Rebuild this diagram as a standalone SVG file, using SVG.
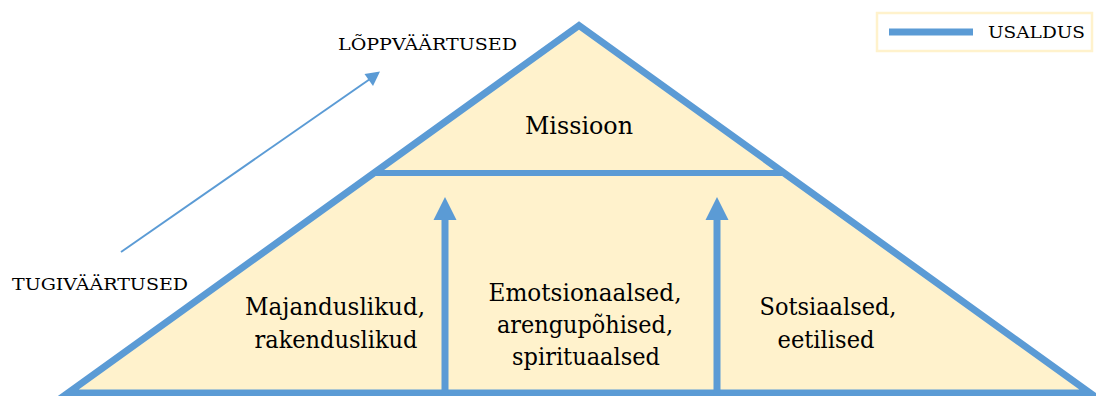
<svg xmlns="http://www.w3.org/2000/svg" width="1096" height="396" viewBox="0 0 1096 396">
<style>
text{font-family:'DejaVu Serif','Liberation Serif',serif;fill:#000}
.big{font-size:25px;text-anchor:middle}
.sm{font-size:16.5px}
.blue{stroke:#5b9bd5;fill:none}
</style>
<rect width="1096" height="396" fill="#fff"/>
<g id="pyramid">
<polygon points="579,25.5 68,393 1090,393" fill="#fff2cc" stroke="#5b9bd5" stroke-width="7" stroke-linejoin="miter"/>
<line class="blue" x1="376" y1="173" x2="782" y2="173" stroke-width="6"/>
</g>
<g id="connectors">
<line class="blue" x1="445" y1="396" x2="445" y2="216" stroke-width="7"/>
<polygon points="445,197 433.5,220 456.5,220" fill="#5b9bd5"/>
<line class="blue" x1="717" y1="396" x2="717" y2="216" stroke-width="7"/>
<polygon points="717,197 705.5,220 728.5,220" fill="#5b9bd5"/>
<line class="blue" x1="121" y1="252" x2="370" y2="79" stroke-width="2"/>
<polygon points="380,71.5 373,86 364.5,74" fill="#5b9bd5"/>
</g>
<g id="missioon">
<text class="big" x="579" y="134" textLength="108" lengthAdjust="spacingAndGlyphs">Missioon</text>
</g>
<g id="majanduslikud">
<text class="big" x="335" y="315" textLength="180" lengthAdjust="spacingAndGlyphs">Majanduslikud,</text>
<text class="big" x="336" y="348" textLength="163" lengthAdjust="spacingAndGlyphs">rakenduslikud</text>
</g>
<g id="emotsionaalsed">
<text class="big" x="585" y="301" textLength="193" lengthAdjust="spacingAndGlyphs">Emotsionaalsed,</text>
<text class="big" x="585" y="333" textLength="176" lengthAdjust="spacingAndGlyphs">arengupõhised,</text>
<text class="big" x="586" y="365" textLength="148" lengthAdjust="spacingAndGlyphs">spirituaalsed</text>
</g>
<g id="sotsiaalsed">
<text class="big" x="828" y="315" textLength="137" lengthAdjust="spacingAndGlyphs">Sotsiaalsed,</text>
<text class="big" x="826" y="348" textLength="97" lengthAdjust="spacingAndGlyphs">eetilised</text>
</g>
<g id="tugivaartused">
<text class="sm" x="12" y="290" textLength="176" lengthAdjust="spacingAndGlyphs">TUGIVÄÄRTUSED</text>
</g>
<g id="loppvaartused">
<text class="sm" x="338" y="50" textLength="179" lengthAdjust="spacingAndGlyphs">LÕPPVÄÄRTUSED</text>
</g>
<g id="legend">
<rect x="877" y="13" width="215" height="38" fill="#fff" stroke="#fff2cc" stroke-width="2.5"/>
<line class="blue" x1="889" y1="32" x2="973" y2="32" stroke-width="7"/>
<text class="sm" x="988" y="38" textLength="97" lengthAdjust="spacingAndGlyphs">USALDUS</text>
</g>
</svg>
